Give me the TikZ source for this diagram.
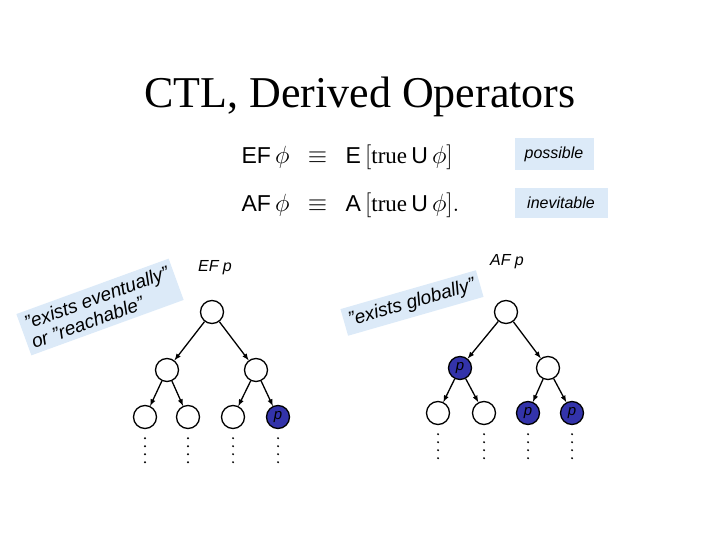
\documentclass[tikz,border=0pt]{standalone}
\usepackage{amsmath,amssymb}
\usepackage{fontspec}
\setmainfont{Liberation Serif}
\setsansfont{Liberation Sans}
\usetikzlibrary{positioning}
\definecolor{pblue}{RGB}{51,51,170}
\definecolor{notebg}{RGB}{220,234,248}
\tikzset{
  st/.style={circle,draw,line width=1.3pt,minimum size=23pt,inner sep=0pt,fill=white},
  pst/.style={st,fill=pblue,font=\sffamily\itshape\fontsize{15}{15}\selectfont},
  note/.style={fill=notebg,font=\sffamily\itshape\fontsize{19}{20}\selectfont,align=left,inner sep=5pt},
  edge/.style={line width=1.3pt,-latex},
  dots/.style={line width=2.2pt,line cap=round,dash pattern=on 0pt off 8pt}
}
\begin{document}
\begin{tikzpicture}[x=1pt,y=-1pt]
\useasboundingbox (0,0) rectangle (720,540);
\node (title) at (360,97) {\fontsize{44}{48}\selectfont CTL, Derived Operators};
% formulas
\node[anchor=west] (ef) at (238,157) {\fontsize{23}{26}\selectfont$\mathsf{EF}\,\phi\ \ \equiv\ \ \mathsf{E}\left[\mathrm{true}\,\mathsf{U}\,\phi\right]$};
\node[anchor=west] (af) at (238,205) {\fontsize{23}{26}\selectfont$\mathsf{AF}\,\phi\ \ \equiv\ \ \mathsf{A}\left[\mathrm{true}\,\mathsf{U}\,\phi\right]\!.$};
\node[note,font=\sffamily\itshape\fontsize{16}{16}\selectfont,minimum width=79pt,minimum height=32pt] (poss) at (554,154) {possible};
\node[note,font=\sffamily\itshape\fontsize{16}{16}\selectfont,minimum width=93pt,minimum height=30pt] (inev) at (561,203) {inevitable};
% EF tree
\node[st] (r) at (212,312) {};
\node[st] (a) at (167,370) {};
\node[st] (b) at (256,370) {};
\node[st] (aa) at (145,417) {};
\node[st] (ab) at (188,417) {};
\node[st] (ba) at (233,417) {};
\node[pst] (bb) at (278,417) {p};
\foreach \u/\v in {r/a,r/b,a/aa,a/ab,b/ba,b/bb} \draw[edge] (\u) -- (\v);
\foreach \n in {aa,ab,ba,bb} \draw[dots] ([yshift=-9pt]\n.south) -- ++(0,26);
\node[font=\sffamily\itshape\fontsize{16}{16}\selectfont] (eflab) at (215,268) {EF p};
\node[note,rotate=20] (evnote) at (100,307) {''exists eventually''\\or ''reachable''};
% AF tree
\node[st] (R) at (506,312) {};
\node[pst] (A) at (460,368) {p};
\node[st] (B) at (548,368) {};
\node[st] (AA) at (438,413) {};
\node[st] (AB) at (484,413) {};
\node[pst] (BA) at (528,413) {p};
\node[pst] (BB) at (572,413) {p};
\foreach \u/\v in {R/A,R/B,A/AA,A/AB,B/BA,B/BB} \draw[edge] (\u) -- (\v);
\foreach \n in {AA,AB,BA,BB} \draw[dots] ([yshift=-9pt]\n.south) -- ++(0,26);
\node[font=\sffamily\itshape\fontsize{16}{16}\selectfont] (aflab) at (507,262) {AF p};
\node[note,rotate=16] (glnote) at (412,303) {''exists globally''};
\end{tikzpicture}
\end{document}
